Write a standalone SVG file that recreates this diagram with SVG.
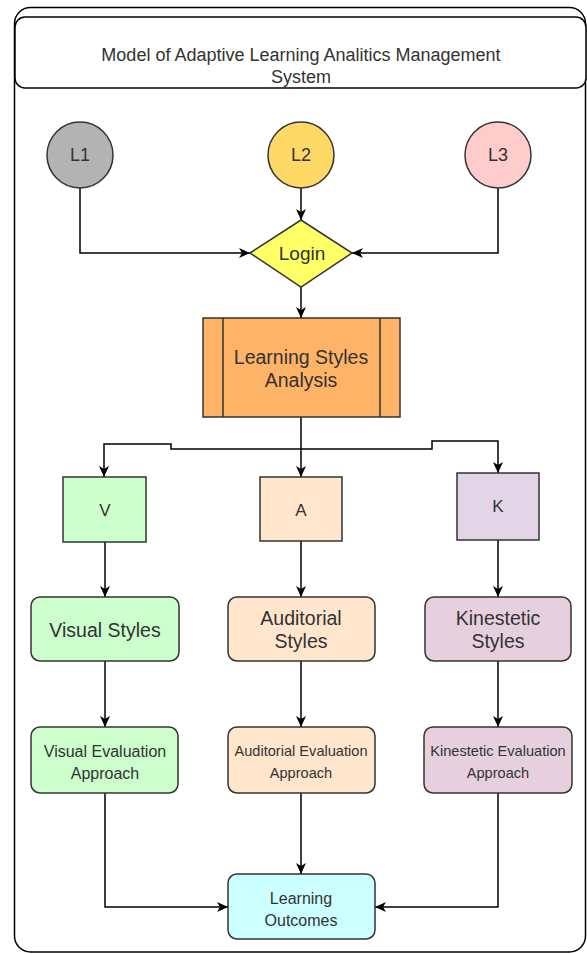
<svg xmlns="http://www.w3.org/2000/svg" width="587" height="954" viewBox="0 0 587 954">
<defs>
<marker id="arr" markerWidth="12" markerHeight="11" refX="11" refY="5" orient="auto" markerUnits="userSpaceOnUse">
<path d="M0,0 L11,5 L0,10 L3,5 z" fill="#000"/>
</marker>
<style>
.sh{stroke:#333;stroke-width:1.5}
.t{font-family:"Liberation Sans",Arial,sans-serif;fill:#333;text-anchor:middle;dominant-baseline:central}
.c{fill:none;stroke:#000;stroke-width:1.5;marker-end:url(#arr)}
</style>
</defs>
<rect width="587" height="954" fill="#fff"/>
<g id="container">
<rect x="14.5" y="7.5" width="571" height="944.5" rx="16" fill="#fff" stroke="#000" stroke-width="1.5"/>
</g>
<g id="header">
<rect x="15" y="17" width="571" height="71" rx="10" fill="#fff" stroke="#000" stroke-width="1.5"/>
<text class="t" x="301" y="55" font-size="18">Model of Adaptive Learning Analitics Management</text>
<text class="t" x="301" y="77" font-size="18">System</text>
</g>
<g id="connectors">
<path class="c" d="M80,188 V253 H250"/>
<path class="c" d="M301,188 V220"/>
<path class="c" d="M498,188 V253 H352"/>
<path class="c" d="M301,287 V318"/>
<path class="c" d="M301,417 V477"/>
<path class="c" d="M301,449 H171 V444 H104 V477"/>
<path class="c" d="M301,449 H432 V441 H498 V473"/>
<path class="c" d="M105,542 V597"/>
<path class="c" d="M301,541 V597"/>
<path class="c" d="M498,540 V597"/>
<path class="c" d="M105,661 V727"/>
<path class="c" d="M301,661 V727"/>
<path class="c" d="M498,661 V727"/>
<path class="c" d="M301,793 V874"/>
<path class="c" d="M105,793 V907 H228"/>
<path class="c" d="M498,793 V907 H375"/>
</g>
<g id="L1">
<circle class="sh" cx="80" cy="155" r="33" fill="#B3B3B3"/>
<text class="t" x="80" y="155" font-size="18">L1</text>
</g>
<g id="L2">
<circle class="sh" cx="301" cy="155" r="33" fill="#FFD966"/>
<text class="t" x="301" y="155" font-size="18">L2</text>
</g>
<g id="L3">
<circle class="sh" cx="498" cy="155" r="33" fill="#FFCCCC"/>
<text class="t" x="498" y="155" font-size="18">L3</text>
</g>
<g id="login">
<polygon class="sh" points="250,253 301,220 352,253 301,287" fill="#FFFF66"/>
<text class="t" x="302" y="253" font-size="19">Login</text>
</g>
<g id="lsa">
<rect class="sh" x="203" y="318" width="197" height="99" fill="#FFB366"/>
<line class="sh" x1="223" y1="318" x2="223" y2="417"/>
<line class="sh" x1="380" y1="318" x2="380" y2="417"/>
<text class="t" x="301" y="357" font-size="19.5">Learning Styles</text>
<text class="t" x="301" y="380" font-size="19.5">Analysis</text>
</g>
<g id="V">
<rect class="sh" x="63" y="477" width="83" height="65" fill="#CCFFCC"/>
<text class="t" x="105" y="510" font-size="17">V</text>
</g>
<g id="A">
<rect class="sh" x="260" y="477" width="82" height="64" fill="#FFE6CC"/>
<text class="t" x="301" y="510" font-size="17">A</text>
</g>
<g id="K">
<rect class="sh" x="457" y="473" width="82" height="67" fill="#E1D5E7"/>
<text class="t" x="498" y="506" font-size="17">K</text>
</g>
<g id="visualStyles">
<rect class="sh" x="31" y="597" width="148" height="64" rx="9" fill="#CCFFCC"/>
<text class="t" x="105" y="630" font-size="19.5">Visual Styles</text>
</g>
<g id="auditorialStyles">
<rect class="sh" x="228" y="597" width="147" height="64" rx="9" fill="#FFE6CC"/>
<text class="t" x="301" y="618" font-size="19.5">Auditorial</text>
<text class="t" x="301" y="641" font-size="19.5">Styles</text>
</g>
<g id="kinesteticStyles">
<rect class="sh" x="425" y="597" width="146" height="64" rx="9" fill="#E6D0DE"/>
<text class="t" x="498" y="618" font-size="19.5">Kinestetic</text>
<text class="t" x="498" y="641" font-size="19.5">Styles</text>
</g>
<g id="visualEval">
<rect class="sh" x="31" y="727" width="147" height="66" rx="9" fill="#CCFFCC"/>
<text class="t" x="105" y="751" font-size="16">Visual Evaluation</text>
<text class="t" x="105" y="773" font-size="16">Approach</text>
</g>
<g id="auditorialEval">
<rect class="sh" x="228" y="727" width="147" height="66" rx="9" fill="#FFE6CC"/>
<text class="t" x="301" y="751" font-size="14.6">Auditorial Evaluation</text>
<text class="t" x="301" y="773" font-size="14.6">Approach</text>
</g>
<g id="kinesteticEval">
<rect class="sh" x="424" y="727" width="148" height="66" rx="9" fill="#E6D0DE"/>
<text class="t" x="498" y="751" font-size="14.6">Kinestetic Evaluation</text>
<text class="t" x="498" y="773" font-size="14.6">Approach</text>
</g>
<g id="outcomes">
<rect class="sh" x="228" y="874" width="147" height="65" rx="9" fill="#CCFFFF"/>
<text class="t" x="301" y="898" font-size="16">Learning</text>
<text class="t" x="301" y="920" font-size="16">Outcomes</text>
</g>
</svg>
